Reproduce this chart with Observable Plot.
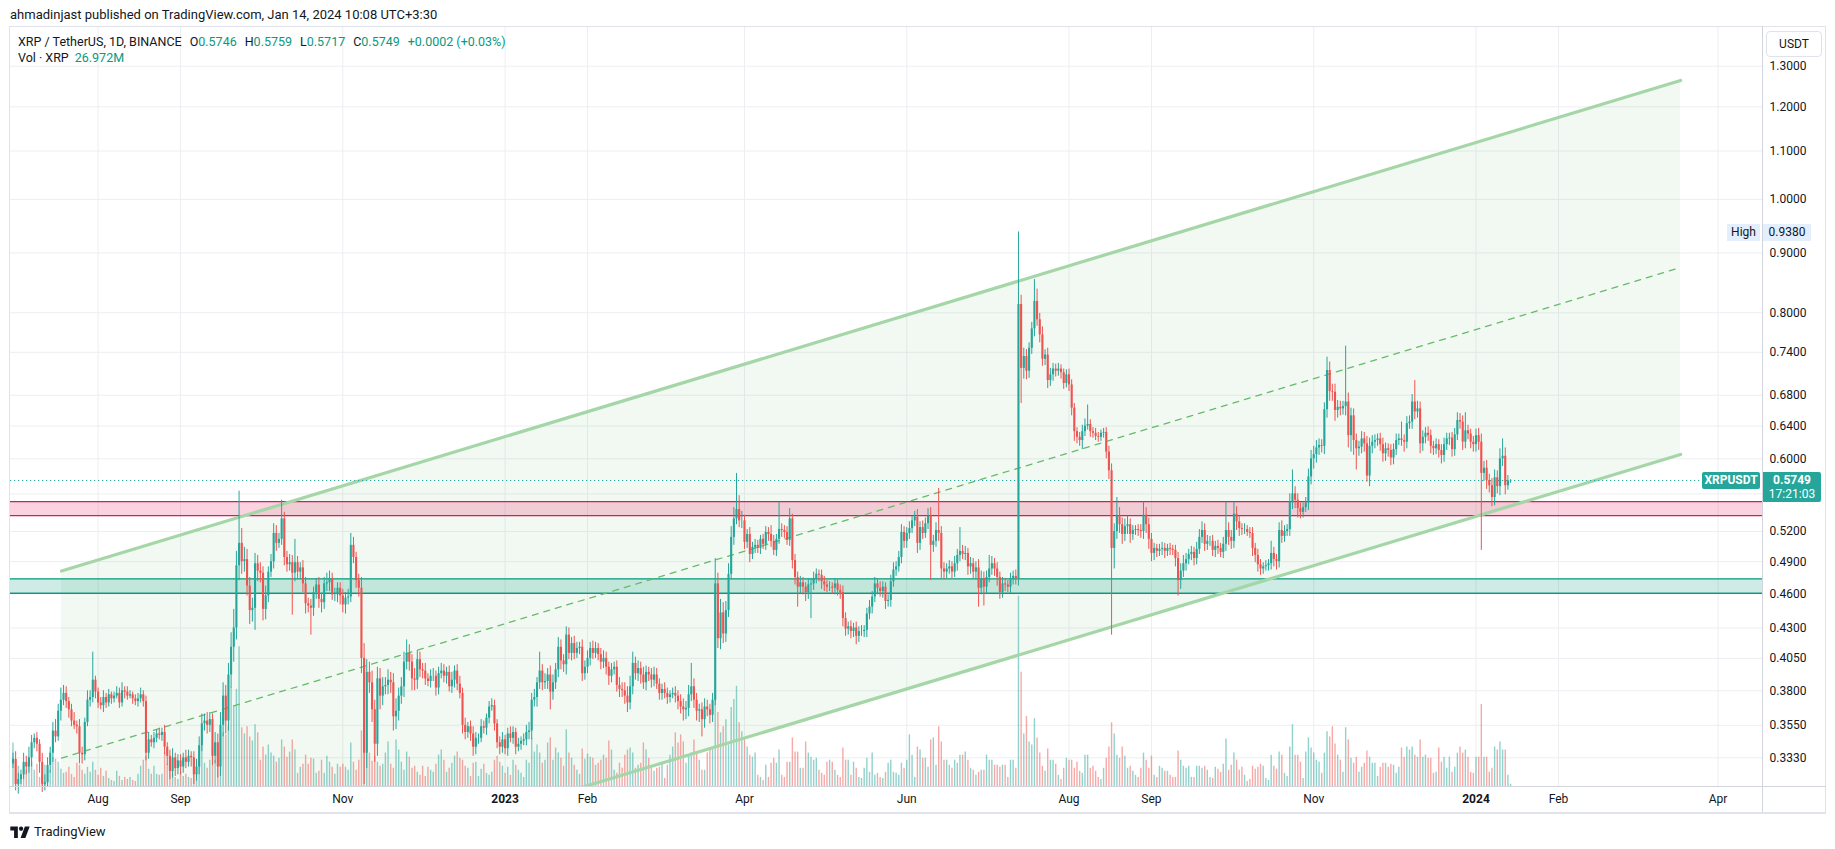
<!DOCTYPE html>
<html><head><meta charset="utf-8">
<script src="https://cdn.jsdelivr.net/npm/d3@7"></script>
<script src="https://cdn.jsdelivr.net/npm/@observablehq/plot@0.6"></script>
<style>
body{margin:0;background:#fff;font-family:Roboto,"Noto Sans",sans-serif;color:#131722;}
#page{position:relative;width:1835px;height:849px;overflow:hidden;background:#fff;}
.layer{position:absolute;left:0;top:0;}
.t{position:absolute;white-space:nowrap;}
.ln{position:absolute;background:#e0e3eb;}
.v{color:#089981;}
.g{margin-left:8px;}
</style></head><body><div id="page">
<div id="layerA" class="layer"></div>
<div id="layerB" class="layer"></div>
<div id="layerC" class="layer"></div>
</div>
<script>
// ---------------- DATA (prices in thousandths of USDT, volume in millions XRP) ----------------
const startDate = "2022-06-30";
const firstOpen = 329;
const closes = [
/*Jun30*/332,
/*Jul22*/316,319,322,330,327,333,343,346,342,330, 316,317,328,336,351,347,365,373,378,372, 366,358,355,354,336,335,357,373,375,388, 379,
/*Aug22*/371,369,375,371,377,374,376,378,371,380, 379,376,377,374,372,374,377,372,336,345, 343,346,349,348,350,340,334,324,333,326, 331,
/*Sep22*/327,333,330,334,333,322,327,341,356,358, 355,359,334,343,327,355,376,358,392,414, 430,486,508,490,492,467,445,447,488,481,
/*Oct22*/479,446,458,480,490,518,508,512,533,494, 487,489,479,489,480,484,469,451,449,447, 461,468,455,452,469,470,474,459,459,465, 458,
/*Nov22*/450,456,457,506,494,472,465,405,336,394, 386,366,342,389,376,383,384,388,386,361, 365,376,383,402,409,402,389,388,404,396,
/*Dec22*/395,389,387,391,391,382,393,395,391,394, 383,388,395,385,378,355,350,354,349,340, 346,346,354,353,360,368,369,356,343,340, 345,
/*Jan23*/339,349,346,350,340,342,344,345,350,351, 373,375,386,395,386,387,392,379,386,396, 414,403,400,424,409,417,409,413,414,393, 398,
/*Feb23*/405,413,409,413,408,402,405,398,391,396, 398,384,381,380,376,371,383,401,393,397, 392,386,394,392,388,392,385,378,
/*Mar23*/381,378,375,377,378,376,372,368,366,367, 377,383,373,365,366,359,368,366,362,373, 469,421,443,425,445,478,514,533,543,531, 531,
/*Apr23*/509,517,497,504,506,503,512,507,519,517, 510,501,512,522,521,519,511,533,491,475, 466,470,466,461,468,469,474,478,477,471,
/*May23*/468,466,466,465,469,463,461,438,429,431, 427,430,423,427,427,428,442,448,457,469, 465,462,466,453,454,471,482,485,494,519, 510,
/*Jun23*/518,523,531,535,508,524,518,528,536,506, 510,521,518,483,480,483,485,480,488,496, 500,497,498,485,488,480,484,465,474,466,
/*Jul23*/475,483,488,483,475,461,469,468,466,473, 476,474,813,717,734,713,746,775,818,789, 766,730,736,700,708,716,713,716,711,696, 708,
/*Aug23*/694,663,633,626,622,633,640,642,633,631, 627,626,631,632,608,586,503,520,536,527, 517,525,527,517,521,522,521,520,537,527, 512,
/*Sep23*/498,503,500,502,503,500,503,502,501,493, 472,481,488,492,497,499,493,502,514,521, 507,510,510,501,505,503,499,507,521,514,
/*Oct23*/510,538,530,523,522,522,519,518,503,496, 487,483,485,486,488,498,492,490,521,515, 520,522,551,560,553,544,540,545,550,579, 600,
/*Nov23*/605,613,616,615,661,714,685,684,660,664, 662,665,671,628,653,622,612,614,624,618, 580,615,620,622,624,617,606,612,610,601,
/*Dec23*/611,622,624,622,620,643,645,671,658,662, 618,626,631,628,615,612,617,610,604,617, 624,625,611,629,647,645,620,634,630,620, 617,
/*Jan24*/628,620,583,589,575,569,556,578,568,600, 603,569,574.6,574.9
];
const upperWicks = [
4,
5,4,3,6,4,7,5,3,4,3, 6,5,5,4,6,8,5,9,6,5, 3,4,6,3,5,4,3,7,5,22, 3,
3,4,5,3,4,2,3,5,4,6, 3,4,3,2,3,4,5,3,4,5, 3,4,3,4,3,5,3,4,6,3, 4,
4,3,5,4,3,4,5,6,7,5, 6,5,4,7,6,9,10,8,9,12, 16,14,55,15,12,10,8,9,10,8,
8,6,9,5,7,10,8,6,20,7, 6,8,7,23,6,5,7,6,5,6, 5,6,7,5,6,9,7,5,6,5, 5,
6,5,7,12,8,5,6,10,12,10, 8,9,7,9,8,7,6,8,6,7, 9,6,7,8,11,7,6,8,7,6,
5,6,4,5,6,4,5,6,5,4, 5,6,4,5,6,4,5,3,4,5, 4,3,5,4,3,4,5,4,3,4, 5,
3,4,5,4,3,4,3,4,5,6, 5,6,4,15,5,6,5,7,6,5, 8,6,5,7,6,5,6,5,4,6, 5,
6,5,6,5,4,5,6,5,4,5, 4,5,6,5,6,7,8,9,5,6, 5,6,5,4,5,6,5,4,
4,5,4,3,4,5,4,5,6,5, 7,18,6,5,4,5,6,5,4,5, 24,10,12,9,8,10,11,12,40,15, 10,
6,5,7,5,6,5,4,5,6,5, 9,6,5,29,6,5,6,11,5,6, 5,6,5,4,6,5,6,5,4,5,
5,4,5,4,5,4,5,6,5,4, 5,4,5,4,5,4,5,6,5,6, 5,6,5,4,5,6,7,5,6,8, 6,
6,7,5,6,8,6,7,6,8,9, 6,8,45,7,6,5,6,5,7,6, 24,6,7,5,6,5,6,8,7,6,
6,13,7,5,6,5,6,5,4,6, 5,6,125,15,12,10,8,10,36,20, 10,12,8,10,9,8,7,8,6,5, 7,
8,7,6,5,6,8,9,25,6,5, 6,5,4,5,6,7,8,8,20,9, 7,8,9,6,5,4,5,6,14,8, 7,
6,5,4,5,6,5,4,5,4,5, 6,7,8,6,5,6,5,7,8,9, 7,6,5,6,5,6,5,7,30,8,
7,13,8,6,5,6,4,5,6,5, 6,5,4,5,4,12,6,5,8,10, 6,5,9,27,8,7,6,5,6,9, 10,
10,9,8,7,9,19,12,10,11,9, 8,7,78,12,10,9,8,7,9,8, 9,10,8,7,6,7,8,7,6,7,
7,8,6,21,7,9,8,10,29,10, 9,8,7,8,7,6,7,6,7,8, 7,6,7,8,10,9,8,23,7,6, 7,
8,9,10,8,9,7,8,9,8,12, 21,10,6,1
];
const lowerWicks = [
3,
4,6,3,3,5,4,6,4,5,7, 5,4,3,5,6,4,3,7,4,5, 6,4,3,5,7,6,4,3,5,4, 5,
4,3,5,4,3,4,3,2,4,3, 5,3,2,4,3,4,3,4,5,4, 3,4,3,3,4,5,6,5,4,5, 4,
5,4,4,3,6,6,4,5,4,5, 6,5,6,5,7,6,8,9,7,10, 12,10,14,12,10,9,12,10,19,10,
9,10,9,6,5,7,8,5,6,8, 7,6,38,8,6,7,8,9,6,23, 7,6,8,9,6,7,8,5,6,7, 8,
7,8,6,5,6,7,8,12,20,10, 8,9,12,8,10,7,6,7,8,10, 9,7,6,8,6,7,9,8,7,6,
6,5,4,5,4,6,5,4,5,6, 4,5,6,5,4,6,5,4,5,6, 5,4,3,4,5,4,3,5,4,5, 4,
4,5,3,4,5,3,4,3,4,5, 6,5,7,5,6,5,6,13,6,5, 6,7,6,8,5,6,5,4,5,6, 5,
5,6,5,4,5,6,5,6,7,5, 4,5,6,5,6,7,5,6,5,6, 7,5,6,5,6,5,4,5,
5,4,5,4,3,5,6,5,8,7, 6,5,6,7,8,12,6,5,6,5, 4,8,9,8,7,6,5,8,6,7, 8,
7,6,8,5,6,5,6,5,6,7, 6,5,6,5,7,6,5,6,8,7, 18,6,7,8,6,30,6,5,6,7,
6,5,4,5,6,5,6,7,6,5, 6,5,7,5,4,5,6,5,6,5, 6,5,6,7,5,6,5,6,5,6, 7,
7,6,5,6,10,7,6,5,6,34, 7,6,8,9,7,6,5,6,5,7, 6,5,6,8,7,6,7,17,6,17,
6,5,6,7,8,6,5,6,5,6, 5,6,7,48,15,12,10,9,12,10, 12,10,9,11,8,9,8,7,9,8, 6,
9,10,12,8,7,11,6,5,7,6, 5,6,5,6,8,10,79,20,8,9, 10,7,8,9,6,5,6,7,8,9, 10,
8,7,6,5,6,7,5,6,5,8, 14,8,6,7,5,6,7,6,5,6, 7,6,5,6,7,6,5,6,7,8,
8,7,9,8,6,5,4,5,8,7, 7,6,5,4,5,6,7,8,6,7, 6,5,7,8,9,10,7,6,5,8, 9,
12,10,9,8,10,11,13,12,14,10, 9,8,12,15,20,18,25,9,8,10, 7,12,9,8,7,8,10,9,8,9,
8,7,6,7,12,8,7,9,10,8, 12,9,8,7,9,8,7,9,10,8, 7,8,9,8,7,9,10,8,7,8, 9,
9,10,82,9,10,8,10,9,8,10, 9,10,5,2.9
];
const volumes = [
516,
312,240,132,264,192,348,288,192,264,108, 132,252,228,192,348,324,288,204,156,168, 228,144,108,276,252,192,144,228,168,288, 192,
132,216,120,180,96,72,60,180,120,72, 108,84,108,72,60,144,240,312,360,204, 144,240,144,132,144,396,264,168,144,108, 84,
168,120,144,108,96,192,168,408,492,276, 216,312,480,312,372,612,636,612,708,1176, 960,1152,1656,696,624,708,588,540,732,636,
312,468,372,492,396,360,288,336,552,468, 348,408,552,432,156,228,264,372,264,336, 324,156,180,312,156,360,288,228,144,264, 228,
264,228,192,516,288,192,312,660,900,624, 396,300,360,288,240,264,396,528,264,216, 552,432,288,192,408,348,216,240,168,132,
240,120,228,192,168,264,372,432,312,168, 216,276,360,408,336,312,240,216,120,276, 288,120,204,264,156,132,168,312,360,288, 240,
156,228,132,312,252,192,156,108,312,276, 576,408,492,396,276,312,516,576,312,456, 396,336,240,672,396,336,252,192,144,444, 324,
384,348,336,252,276,312,372,336,540,432, 192,156,276,216,372,432,456,396,216,252, 276,516,432,336,216,180,216,228,
276,96,252,372,468,636,516,612,528,276, 372,396,552,408,312,192,192,396,432,444, 1188,876,636,708,792,492,936,1032,1188,756, 648,
552,468,372,348,396,132,108,72,252,108, 276,336,276,432,132,108,288,288,576,408, 408,216,216,528,396,348,312,336,192,156,
132,288,312,288,192,132,108,456,312,312, 132,288,216,108,96,216,336,168,396,132, 156,108,96,168,276,312,168,156,132,276, 216,
312,612,372,108,468,432,336,336,228,552, 576,252,708,528,312,312,252,216,312,276, 372,372,408,312,216,192,132,168,192,192,
372,312,312,252,252,228,252,252,108,312, 312,216,2256,1356,624,828,528,492,804,576, 396,240,180,444,312,312,264,132,84,216, 336,
312,312,216,288,180,156,372,372,216,240, 180,108,84,216,336,468,756,624,372,336, 468,360,216,240,180,132,108,216,396,312, 216,
360,132,108,240,216,180,180,132,108,108, 420,312,240,216,240,108,108,240,240,216, 240,192,108,96,228,204,168,264,564,192,
252,396,312,192,228,132,60,84,240,204, 228,264,240,96,72,372,240,204,408,372, 156,120,468,732,372,372,288,96,408,576, 456,
396,312,288,156,396,648,588,708,504,372, 312,168,696,552,336,276,348,168,228,276, 420,348,276,276,120,228,276,276,228,264,
252,156,228,456,348,468,432,468,372,348, 552,348,372,336,336,156,168,456,288,348, 216,348,168,228,396,468,396,432,348,168, 156,
348,348,972,348,348,168,216,468,432,528, 432,432,132,26.972
];
const legendOHLC = ["0.5746", "0.5759", "0.5717", "0.5749"];
const legendChange = "+0.0002 (+0.03%)";
const legendVolume = "26.972M";
const channelDates = ["2022-07-18T06:00:00Z", "2024-03-17T22:00:00Z"];
const channelUpper = [0.481, 1.264];
const channelMiddle = [0.3328, 0.8746];
const channelLower = [0.2303, 0.6052];
const resistanceZone = [0.5365, 0.5515];
const supportZone = [0.4605, 0.4737];
const lastPrice = 0.5749;
const highPrice = 0.938;
const gridTicks = [1.3, 1.2, 1.1, 1.0, 0.9, 0.8, 0.74, 0.68, 0.64, 0.6, 0.56, 0.52, 0.49, 0.46, 0.43, 0.405, 0.38, 0.355, 0.333];
const labelTicks = [1.3, 1.2, 1.1, 1.0, 0.9, 0.8, 0.74, 0.68, 0.64, 0.6, 0.52, 0.49, 0.46, 0.43, 0.405, 0.38, 0.355, 0.333];
const monthTicks = ["2022-08-01","2022-09-01","2022-11-01","2023-01-01","2023-02-01","2023-04-01","2023-06-01","2023-08-01","2023-09-01","2023-11-01","2024-01-01","2024-02-01","2024-04-01"];
const monthLabels = ["Aug","Sep","Nov","2023","Feb","Apr","Jun","Aug","Sep","Nov","2024","Feb","Apr"];
const visibleRange = ["2022-06-29T01:40:00Z", "2024-04-17T17:00:00Z"];
const priceRange = [0.3147, 1.403];
const volumeRange = [0, 9000];

// ---------------- BUILD ----------------
const UP = "#26a69a", DOWN = "#ef5350";
const t0 = new Date(startDate + "T00:00:00Z").getTime();
const rows = closes.map((c, i) => {
  const o = i === 0 ? firstOpen : closes[i - 1];
  const hi = Math.max(o, c) + (upperWicks[i] || 0);
  const lo = Math.min(o, c) - (lowerWicks[i] || 0);
  return {date: new Date(t0 + i * 864e5), open: o / 1000, close: c / 1000, high: hi / 1000, low: lo / 1000,
          volume: volumes[i] || 0, up: c >= o};
});
const xDomain = visibleRange.map(s => new Date(s));
const channel = channelDates.map((d, i) => ({date: new Date(d), upper: channelUpper[i], middle: channelMiddle[i], lower: channelLower[i]}));
const ticksX = monthTicks.map(s => new Date(s + "T00:00:00Z"));
const labelOf = new Map(ticksX.map((d, i) => [+d, monthLabels[i]]));
const yearTicks = ticksX.filter((d, i) => /^\d{4}$/.test(monthLabels[i]));
const otherTicks = ticksX.filter((d, i) => !/^\d{4}$/.test(monthLabels[i]));
const zones = [
  {x1: xDomain[0], x2: xDomain[1], y1: resistanceZone[0], y2: resistanceZone[1], fill: "#e91e63", stroke: "#d81b60"},
  {x1: xDomain[0], x2: xDomain[1], y1: supportZone[0], y2: supportZone[1], fill: "#089981", stroke: "#089981"}
];

const common = {
  width: 1835, height: 849, marginTop: 27, marginBottom: 63, marginLeft: 10, marginRight: 73,
  style: {background: "transparent", overflow: "visible", color: "#131722", fontFamily: "Roboto, sans-serif", fontSize: "12px"}
};

// Layer A: grid, channel fill, zones
const A = Plot.plot({
  ...common,
  x: {type: "utc", domain: xDomain, axis: null},
  y: {type: "log", domain: priceRange, axis: null},
  marks: [
    Plot.gridY(gridTicks, {stroke: "#eceef2", strokeOpacity: 1}),
    Plot.gridX(ticksX, {stroke: "#eceef2", strokeOpacity: 1}),
    Plot.areaY(channel, {x: "date", y1: "lower", y2: "upper", fill: "#4caf50", fillOpacity: 0.075, clip: true}),
    Plot.rect(zones, {x1: "x1", x2: "x2", y1: "y1", y2: "y2", fill: "fill", fillOpacity: 0.2})
  ]
});
document.getElementById("layerA").appendChild(A);

// Layer B: volume
const B = Plot.plot({
  ...common,
  x: {type: "utc", domain: xDomain, axis: null},
  y: {domain: volumeRange, axis: null},
  marks: [
    Plot.ruleX(rows, {x: "date", y1: 0, y2: "volume", stroke: d => d.up ? UP : DOWN, strokeOpacity: 0.5, strokeWidth: 1.4})
  ]
});
document.getElementById("layerB").appendChild(B);

// Layer C: lines, candles, axes
const C = Plot.plot({
  ...common,
  x: {type: "utc", domain: xDomain},
  y: {type: "log", domain: priceRange},
  marks: [
    Plot.ruleY(zones, {y: "y1", stroke: "stroke", strokeWidth: 1.4}),
    Plot.ruleY(zones, {y: "y2", stroke: "stroke", strokeWidth: 1.4}),
    Plot.line(channel, {x: "date", y: "upper", stroke: "#a5d6a7", strokeWidth: 3.2, clip: true}),
    Plot.line(channel, {x: "date", y: "lower", stroke: "#a5d6a7", strokeWidth: 3.2, clip: true}),
    Plot.line(channel, {x: "date", y: "middle", stroke: "#66bb6a", strokeWidth: 1.3, strokeDasharray: "6,6", clip: true}),
    Plot.ruleY([lastPrice], {stroke: UP, strokeWidth: 1.1, strokeDasharray: "1.2,2.8"}),
    Plot.ruleX(rows, {x: "date", y1: "low", y2: "high", stroke: d => d.up ? UP : DOWN, strokeWidth: 1}),
    Plot.ruleX(rows, {x: "date", y1: "open", y2: "close", stroke: d => d.up ? UP : DOWN, strokeWidth: 2.1}),
    Plot.axisY(labelTicks, {anchor: "right", tickSize: 0, tickPadding: 7, tickFormat: d => d.toFixed(4), fontSize: 12, label: null}),
    Plot.axisX(otherTicks, {anchor: "bottom", tickSize: 0, tickPadding: 8, tickFormat: d => labelOf.get(+d), fontSize: 12, label: null}),
    Plot.axisX(yearTicks, {anchor: "bottom", tickSize: 0, tickPadding: 8, tickFormat: d => labelOf.get(+d), fontSize: 12, fontWeight: "bold", label: null})
  ]
});
document.getElementById("layerC").appendChild(C);

// ---------------- OVERLAY TEXT & FRAME ----------------
const page = document.getElementById("page");
function add(html) { page.insertAdjacentHTML("beforeend", html); }
add(`<div class="t" style="left:10px;top:7px;font-size:13px;">ahmadinjast published on TradingView.com, Jan 14, 2024 10:08 UTC+3:30</div>`);
add(`<div class="ln" style="left:9px;top:26px;width:1817px;height:1px;"></div>`);
add(`<div class="ln" style="left:9px;top:26px;width:1px;height:787px;"></div>`);
add(`<div class="ln" style="left:1825px;top:26px;width:1px;height:787px;"></div>`);
add(`<div class="ln" style="left:1762px;top:26px;width:1px;height:787px;background:#d1d4dc;"></div>`);
add(`<div class="ln" style="left:9px;top:786px;width:1817px;height:1px;background:#d1d4dc;"></div>`);
add(`<div class="ln" style="left:9px;top:812px;width:1817px;height:2px;"></div>`);
add(`<div class="t" style="left:18px;top:34px;font-size:12.5px;"><span>XRP / TetherUS, 1D, BINANCE</span><span class="g">O</span><span class="v">${legendOHLC[0]}</span><span class="g">H</span><span class="v">${legendOHLC[1]}</span><span class="g">L</span><span class="v">${legendOHLC[2]}</span><span class="g">C</span><span class="v">${legendOHLC[3]}</span><span class="v g">${legendChange}</span></div>`);
add(`<div class="t" style="left:18px;top:50px;font-size:12.5px;">Vol · XRP<span class="v" style="margin-left:6px">${legendVolume}</span></div>`);
add(`<div class="t" style="left:1766px;top:31px;width:54px;height:24px;border:1px solid #e0e3eb;border-radius:4px;background:#fff;font-size:12px;line-height:24px;text-align:center;">USDT</div>`);
add(`<div class="t" style="left:1727px;top:224px;width:33px;height:17px;background:#e3effd;font-size:12px;line-height:17px;text-align:center;">High</div>`);
add(`<div class="t" style="left:1763px;top:224px;width:48px;height:17px;background:#e3effd;font-size:12px;line-height:17px;text-align:center;">${highPrice.toFixed(4)}</div>`);
add(`<div class="t" style="left:1702px;top:472px;width:58px;height:17px;background:${UP};color:#fff;font-weight:bold;font-size:12px;line-height:17px;text-align:center;border-radius:2px;">XRPUSDT</div>`);
add(`<div class="t" style="left:1763px;top:472px;width:58px;height:30px;background:${UP};color:#fff;font-size:12px;line-height:14px;text-align:center;border-radius:0 2px 2px 0;padding-top:1px;box-sizing:border-box;"><b>${lastPrice.toFixed(4)}</b><br>17:21:03</div>`);
add(`<div class="t" style="left:10px;top:824px;font-size:13px;display:flex;align-items:center;gap:4px;">
<svg width="20" height="14" viewBox="0 0 36 26"><path d="M14 24H7V10H0V3h14v21z" fill="#131722"/><circle cx="20" cy="7" r="4" fill="#131722"/><path d="M27 3h9l-8 21h-9z" fill="#131722"/></svg><span>TradingView</span></div>`);
</script>
</body></html>
